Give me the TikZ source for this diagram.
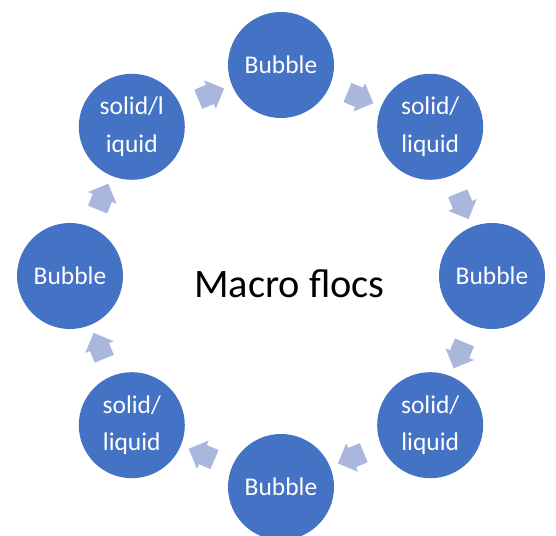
\documentclass[tikz,border=0pt]{standalone}
\usepackage{fontspec}
\setmainfont{Carlito}
\usepackage{xcolor}
\usetikzlibrary{shapes.arrows, calc}
\definecolor{cycleBlue}{RGB}{68,114,196}
\definecolor{softBlue}{RGB}{170,183,220}
\definecolor{darkText}{RGB}{0,0,0}
\tikzset{
    phasebox/.style={
        circle,
        draw=none,
        fill=cycleBlue,
        minimum size=2.12cm,
        inner sep=0pt,
        align=center,
        text=white,
        font=\fontsize{14.5}{21.6}\selectfont
    },
    flowarrow/.style={
        single arrow,
        draw=none,
        fill=softBlue,
        minimum height=0.56cm,
        inner xsep=0pt,
        inner ysep=0.2cm,
        single arrow head extend=0.1cm,
        single arrow tip angle=90
    },
    centerlabel/.style={font=\fontsize{23}{27}\selectfont, text=darkText}
}

\begin{document}
\begin{tikzpicture}
    \useasboundingbox (-5.62,-5.2) rectangle (5.5,5.52);
    \node[phasebox] (top) at (90:4.22) {Bubble};
    \node[phasebox] (topright) at (45:4.22) {solid/\\liquid};
    \node[phasebox] (right) at (0:4.22) {Bubble};
    \node[phasebox] (botright) at (-45:4.22) {solid/\\liquid};
    \node[phasebox] (bottom) at (-90:4.22) {Bubble};
    \node[phasebox] (botleft) at (-135:4.22) {solid/\\liquid};
    \node[phasebox] (left) at (180:4.22) {Bubble};
    \node[phasebox] (topleft) at (135:4.22) {solid/l\\iquid};
    \node[centerlabel] (macro) at (0.17,-0.15) {Macro flocs};
    \node[flowarrow, rotate=-22.5] (a1) at ($(top)!0.5!(topright)$) {};
    \node[flowarrow, rotate=-67.5] (a2) at ($(topright)!0.5!(right)$) {};
    \node[flowarrow, rotate=-112.5] (a3) at ($(right)!0.5!(botright)$) {};
    \node[flowarrow, rotate=-157.5] (a4) at ($(botright)!0.5!(bottom)$) {};
    \node[flowarrow, rotate=157.5] (a5) at ($(bottom)!0.5!(botleft)$) {};
    \node[flowarrow, rotate=112.5] (a6) at ($(botleft)!0.5!(left)$) {};
    \node[flowarrow, rotate=67.5] (a7) at ($(left)!0.5!(topleft)$) {};
    \node[flowarrow, rotate=22.5] (a8) at ($(topleft)!0.5!(top)$) {};
\end{tikzpicture}
\end{document}
